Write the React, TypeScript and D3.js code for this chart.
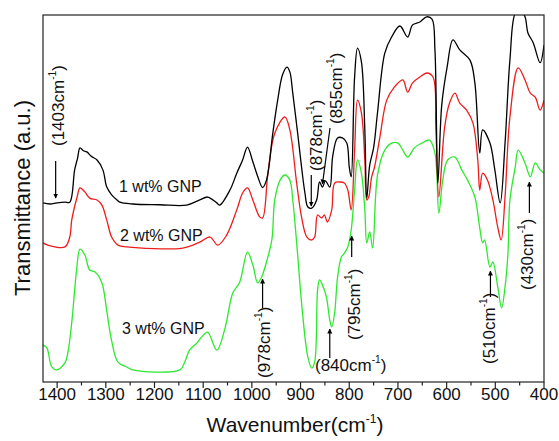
import React from 'react';
import * as d3 from 'd3';

// ---- Data (transmittance in arbitrary units) ----
const xTicks = [1400, 1300, 1200, 1100, 1000, 900, 800, 700, 600, 500, 400];
const xMinorTicks = [1350, 1250, 1150, 1050, 950, 850, 750, 650, 550, 450];

// 1 wt% GNP (black)
const wn1 = [1429,1415,1400,1384,1374,1364,1358,1353,1346,1339,1330,1318,1306,1298,1288,1277,1271,1245,1189,1134,1107,1091,1072,1066,1045,1031,1019,1009,998,988,978,970,957,947,937,928,922,916,906,898,891,885,877,867,861,855,849,840,834,824,814,805,800,796,789,783,775,768,764,758,750,742,727,713,696,680,670,655,641,630,624,618,610,599,587,573,552,542,532,526,511,501,490,480,470,459,449,439,433,422,408,400];
const t1 = [48.8,48.5,48.8,49.0,49.0,57.8,61.0,63.8,63.0,62.7,61.5,60.5,57.8,53.1,51.0,49.6,49.0,48.5,48.3,48.2,49.6,50.4,48.8,48.2,52.3,56.9,60.5,64.0,60.0,56.0,53.0,55.0,67.8,76.8,83.7,85.8,84.5,78.7,67.8,58.6,51.5,47.7,47.4,49.6,54.5,53.1,54.8,53.1,61.5,66.5,66.5,65.1,58.6,55.9,83.1,91.0,87.2,68.7,50.1,59.1,63.8,73.3,89.6,94.0,97.0,94.0,97.3,98.1,99.5,98.9,90.5,54.2,75.5,85.8,93.2,90.5,87.7,81.5,62.4,68.7,65.1,57.8,48.8,65.1,87.7,100.5,101.4,99.5,95.1,92.4,87.0,91.8];

// 2 wt% GNP (red)
const wn2 = [1429,1419,1384,1374,1370,1359,1353,1343,1333,1318,1308,1298,1288,1275,1257,1142,1107,1086,1070,1052,1031,1019,1009,998,984,978,967,953,932,922,908,898,887,877,871,865,857,851,845,836,830,820,810,803,796,789,783,775,768,764,760,754,748,737,723,707,690,680,670,655,641,628,622,616,604,594,583,573,559,546,536,532,526,516,505,495,488,480,470,453,439,428,418,408,400];
const t2 = [37.9,37.3,36.8,39.5,44.1,50.4,52.9,51.8,50.1,49.6,48.2,44.1,39.5,37.3,36.8,36.5,38.1,39.5,37.3,40.0,46.9,51.5,52.9,49.6,45.0,44.7,56.9,67.8,72.2,68.7,54.2,45.0,39.5,38.7,39.5,45.5,44.7,45.5,43.6,46.9,54.2,54.5,54.2,52.3,46.9,63.2,76.8,73.3,60.5,49.6,50.4,55.9,58.6,66.8,76.8,80.4,82.3,79.0,81.5,83.1,84.2,83.1,68.7,50.4,69.5,76.0,78.7,76.0,74.1,70.6,60.5,52.3,56.9,55.0,49.6,42.2,38.7,50.4,72.2,85.6,82.3,78.7,77.6,74.1,76.8];

// 3 wt% GNP (green)
const wn3 = [1429,1421,1411,1401,1384,1378,1370,1364,1360,1353,1343,1333,1322,1308,1298,1288,1275,1257,1245,1148,1138,1128,1113,1103,1091,1072,1056,1039,1025,1009,998,988,980,970,959,953,942,932,922,916,908,896,885,877,871,865,861,855,847,840,836,830,824,816,810,803,796,789,783,775,768,764,758,752,742,727,713,700,690,680,665,651,635,624,616,608,598,583,569,557,542,532,526,522,511,505,495,487,480,474,470,459,453,439,428,418,408,400];
const t3 = [10.1,9.3,4.1,3.3,5.2,7.9,16.1,25.1,30.5,36.2,34.6,30.5,30.0,27.0,19.3,11.2,5.4,4.1,3.3,3.3,5.4,8.7,10.6,12.3,13.6,8.7,14.2,24.3,27.2,35.4,31.9,27.0,28.6,32.7,38.7,49.6,55.0,56.4,55.0,49.6,37.9,18.8,6.8,3.8,5.4,25.1,27.8,26.4,23.2,16.9,15.0,18.8,28.6,34.1,35.1,36.8,41.4,52.3,60.5,56.9,46.9,37.9,40.9,36.5,56.4,63.2,65.1,65.1,63.2,61.3,64.0,65.1,65.9,62.4,46.0,55.0,60.5,61.3,57.8,55.0,50.4,42.0,37.9,38.7,31.3,32.7,25.9,20.2,25.9,35.1,49.6,58.6,63.2,59.7,55.9,59.7,57.8,56.9];

const seriesLabels = ['1 wt% GNP', '2 wt% GNP', '3 wt% GNP'];
const seriesColors = ['#000000', '#ee1c1c', '#2ee82e'];

const peakLabels = ['1403', '878', '855', '978', '840', '795', '510', '430'];

// ---- Layout ----
const W = 559;
const H = 441;
const PL = 43, PT = 15, PR = 544, PB = 382;
const FONT = "'Liberation Sans', Arial, Helvetica, sans-serif";

const x = d3.scaleLinear().domain([1429, 400]).range([PL, PR]);
const y = d3.scaleLinear().domain([0, 100]).range([PB, PT]);

const line = d3
  .line<[number, number]>()
  .x((d) => x(d[0]))
  .y((d) => y(d[1]))
  .curve(d3.curveCatmullRom.alpha(0.5));

const series = [
  { wn: wn1, t: t1 },
  { wn: wn2, t: t2 },
  { wn: wn3, t: t3 },
];

type Ann = { x1: number; y1: number; x2: number; y2: number; tx: number; ty: number; rot: boolean };
const annLayout: Ann[] = [
  { x1: x(1403), y1: 161, x2: x(1403), y2: 198, tx: 64, ty: 146, rot: true },
  { x1: x(878), y1: 175, x2: x(878), y2: 206, tx: 322, ty: 171, rot: true },
  { x1: 330, y1: 128, x2: x(855), y2: 184, tx: 342, ty: 124, rot: true },
  { x1: x(978), y1: 308, x2: x(978), y2: 279, tx: 270, ty: 378, rot: true },
  { x1: x(840), y1: 358, x2: x(840), y2: 329, tx: 315, ty: 371, rot: false },
  { x1: x(795), y1: 257, x2: x(795), y2: 236, tx: 360, ty: 340, rot: true },
  { x1: x(510), y1: 297, x2: x(510), y2: 271, tx: 495, ty: 364, rot: true },
  { x1: x(430), y1: 213, x2: x(430), y2: 182, tx: 533, ty: 290, rot: true },
];

const labelPos = [
  { x: 119, y: 192 },
  { x: 120, y: 241 },
  { x: 122, y: 334 },
];

function CmText({ value, size }: { value: string; size: number }) {
  return (
    <>
      <tspan>{`(${value}cm`}</tspan>
      <tspan fontSize={size * 0.6} dy={-size * 0.45}>-1</tspan>
      <tspan dy={size * 0.45}>)</tspan>
    </>
  );
}

export default function App() {
  return (
    <svg
      width={W}
      height={H}
      style={{ position: 'absolute', left: 0, top: 0, background: '#fff' }}
      fontFamily={FONT}
    >
      <defs>
        <clipPath id="plotClip">
          <rect x={PL} y={PT} width={PR - PL} height={PB - PT} />
        </clipPath>
        <marker id="arrowHead" viewBox="0 0 10 10" refX="9" refY="5" markerWidth="5" markerHeight="6" orient="auto" markerUnits="userSpaceOnUse">
          <path d="M0,0 L10,5 L0,10 z" fill="#000" />
        </marker>
      </defs>

      <g clipPath="url(#plotClip)">
        {series
          .map((s, i) => ({ s, i }))
          .reverse()
          .map(({ s, i }) => (
            <path
              key={i}
              d={line(s.wn.map((w, k) => [w, s.t[k]] as [number, number])) || ''}
              fill="none"
              stroke={seriesColors[i]}
              strokeWidth={1.3}
              strokeLinejoin="round"
            />
          ))}
      </g>

      <rect x={PL} y={PT} width={PR - PL} height={PB - PT} fill="none" stroke="#222" strokeWidth={1.2} />

      {xTicks.map((t) => (
        <g key={t}>
          <line x1={x(t)} x2={x(t)} y1={PB} y2={PB + 6} stroke="#222" strokeWidth={1.2} />
          <text x={x(t)} y={400} textAnchor="middle" fontSize={17} fill="#111">
            {t}
          </text>
        </g>
      ))}
      {xMinorTicks.map((t) => (
        <line key={t} x1={x(t)} x2={x(t)} y1={PB} y2={PB + 3.5} stroke="#222" strokeWidth={1.2} />
      ))}

      <text x={295} y={432} textAnchor="middle" fontSize={21} fill="#111">
        <tspan>Wavenumber(cm</tspan>
        <tspan fontSize={12} dy={-9}>-1</tspan>
        <tspan dy={9}>)</tspan>
      </text>
      <text transform={`translate(30,198) rotate(-90)`} textAnchor="middle" fontSize={22} fill="#111">
        Transmittance (a.u.)
      </text>

      {seriesLabels.map((l, i) => (
        <text key={l} x={labelPos[i].x} y={labelPos[i].y} fontSize={16} fill="#111">
          {l}
        </text>
      ))}

      {peakLabels.map((p, i) => {
        const a = annLayout[i];
        return (
          <g key={p}>
            <line x1={a.x1} y1={a.y1} x2={a.x2} y2={a.y2} stroke="#000" strokeWidth={1.2} markerEnd="url(#arrowHead)" />
            {a.rot ? (
              <text transform={`translate(${a.tx},${a.ty}) rotate(-90)`} fontSize={17} fill="#111">
                <CmText value={p} size={17} />
              </text>
            ) : (
              <text x={a.tx} y={a.ty} fontSize={17} fill="#111">
                <CmText value={p} size={17} />
              </text>
            )}
          </g>
        );
      })}
    </svg>
  );
}
